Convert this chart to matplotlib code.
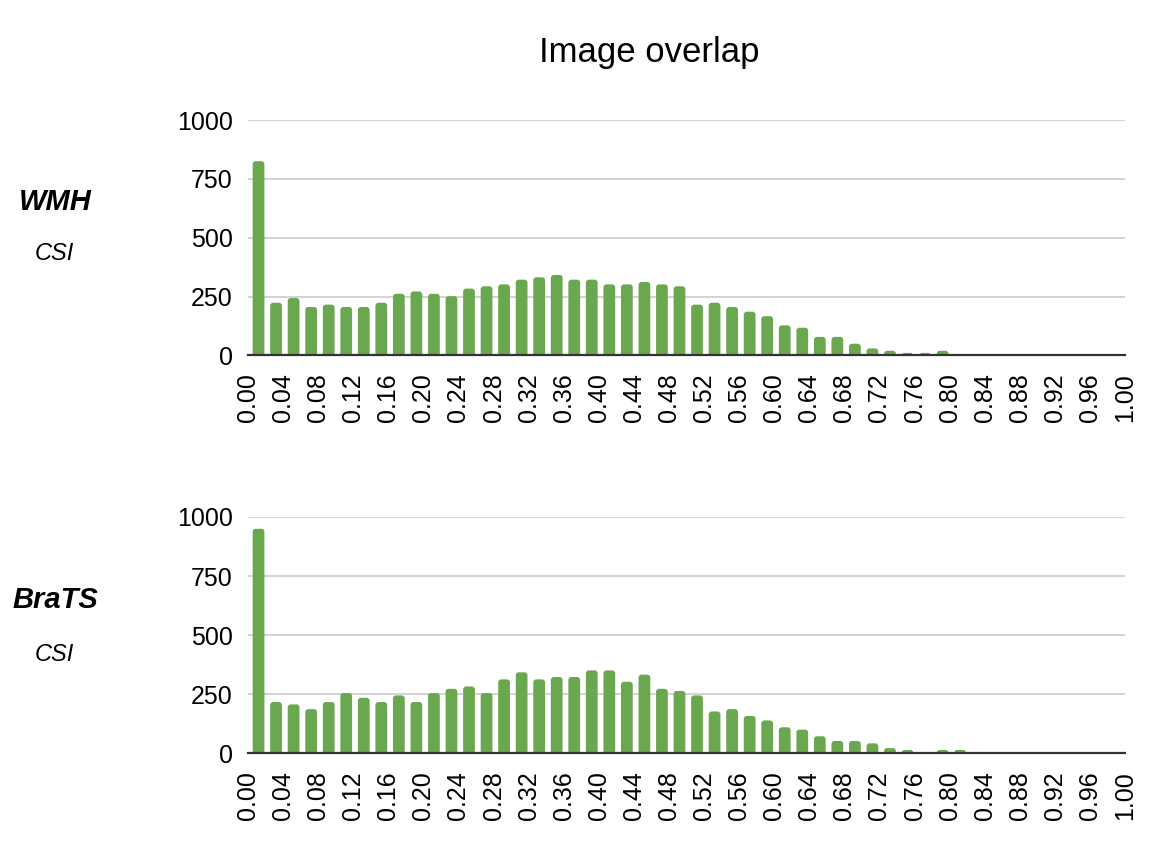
import numpy as np
import matplotlib
matplotlib.use("Agg")
import matplotlib.pyplot as plt
from matplotlib.patches import FancyBboxPatch

# ---- data ----
bin_width = 0.02
wmh_counts = [825, 224, 244, 206, 216, 206, 206, 224, 262, 272,
              262, 252, 284, 294, 302, 322, 332, 342, 322, 322,
              302, 302, 312, 302, 294, 216, 224, 206, 186, 167,
              128, 118, 79, 79, 50, 30, 20, 11, 11, 20]
brats_counts = [950, 216, 206, 186, 216, 254, 234, 216, 244, 216,
                254, 272, 282, 254, 312, 342, 312, 322, 322, 350,
                350, 302, 332, 272, 263, 244, 176, 186, 157, 138,
                109, 99, 71, 51, 51, 41, 21, 13, 0, 13, 13]
x_ticks = [0.00, 0.04, 0.08, 0.12, 0.16, 0.20, 0.24, 0.28, 0.32, 0.36, 0.40,
           0.44, 0.48, 0.52, 0.56, 0.60, 0.64, 0.68, 0.72, 0.76, 0.80,
           0.84, 0.88, 0.92, 0.96, 1.00]
y_ticks = [0, 250, 500, 750, 1000]
title = "Image overlap"
panels = [("WMH", "CSI", wmh_counts), ("BraTS", "CSI", brats_counts)]

# ---- style ----
plt.rcParams["font.family"] = ["Liberation Sans", "DejaVu Sans"]
BAR = "#6aa84f"
GRID = "#cccccc"

W, H = 1162, 846
fig = plt.figure(figsize=(W / 100, H / 100), dpi=100)

ax_rects = [
    (248 / W, 1 - 355.5 / H, 877 / W, 235.5 / H),
    (248 / W, 1 - 753 / H, 877 / W, 236 / H),
]
label_pos = [(0.7518, 0.6927), (0.2813, 0.219)]

for (name, metric, counts), rect, (yb, ym) in zip(panels, ax_rects, label_pos):
    ax = fig.add_axes(rect)
    n = len(counts)
    centers = np.arange(n) * bin_width + bin_width / 2 + 0.002
    ax.set_xlim(0, 1)
    ax.set_ylim(0, 1000)
    bars = ax.bar(centers, counts, width=0.0134, color=BAR, zorder=3, linewidth=0)
    # rounded top corners (radius ~3 px)
    px_x = 1.0 / (rect[2] * W)        # data units per pixel in x
    px_y = 1000.0 / (rect[3] * H)     # data units per pixel in y
    r = 3 * px_x
    aspect = px_y / px_x
    for b in bars:
        h = b.get_height()
        if h <= 0:
            b.remove()
            continue
        ext = 3 * px_y
        fb = FancyBboxPatch((b.get_x(), -ext), b.get_width(), h + ext,
                            boxstyle=f"round,pad=0,rounding_size={r}",
                            mutation_aspect=aspect, facecolor=BAR,
                            linewidth=0, zorder=3)
        ax.add_patch(fb)
        b.remove()
    ax.set_yticks(y_ticks)
    ax.set_yticklabels([str(v) for v in y_ticks])
    ax.set_xticks(x_ticks)
    ax.set_xticklabels([f"{v:.2f}" for v in x_ticks], rotation=90)
    for s in ["top", "right", "left"]:
        ax.spines[s].set_visible(False)
    ax.spines["bottom"].set_color("#333333")
    ax.spines["bottom"].set_linewidth(1.6)
    ax.spines["bottom"].set_zorder(4)
    ax.grid(axis="y", color=GRID, linewidth=1.2, zorder=0)
    ax.tick_params(axis="y", length=0, pad=11, labelsize=18, colors="#000000")
    ax.tick_params(axis="x", length=0, pad=13, labelsize=18, colors="#000000")
    ax.set_axisbelow(True)
    fig.text(55 / W, yb, name, fontsize=21, fontweight="bold", fontstyle="italic",
             ha="center", va="baseline")
    fig.text(54 / W, ym, metric, fontsize=17, fontstyle="italic",
             ha="center", va="baseline")

fig.text(649.5 / W, 1 - 61.7 / H, title, fontsize=25, ha="center", va="baseline")

fig.savefig("out.png", dpi=100, facecolor="white")
